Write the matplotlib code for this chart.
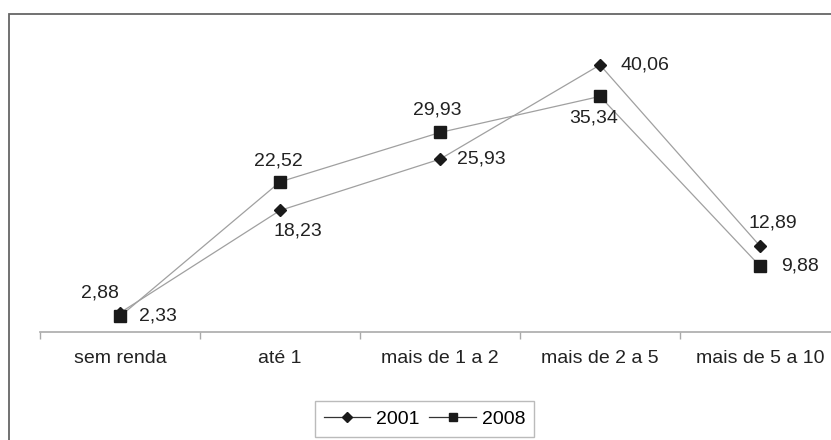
import matplotlib.pyplot as plt
from matplotlib.patches import Rectangle

categorias = ["sem renda", "até 1", "mais de 1 a 2", "mais de 2 a 5", "mais de 5 a 10"]
valores_2001 = [2.88, 18.23, 25.93, 40.06, 12.89]
valores_2008 = [2.33, 22.52, 29.93, 35.34, 9.88]

# deslocamento (px) de cada rótulo em relação ao ponto
offsets_2001 = [(-20, 20), (18, -21), (41, 0), (45, 0), (13, 23)]
offsets_2008 = [(38, 0), (-2, 21), (-3, 22), (-6, -22), (40, 0)]

plt.rcParams['font.family'] = ['Liberation Sans', 'DejaVu Sans']

def fmt(v):
    return f"{v:.2f}".replace(".", ",")

fig = plt.figure(figsize=(8.31, 4.4), dpi=100)
W, H = 831, 440
ax = fig.add_axes([40 / W, (H - 332) / H, 800 / W, 300 / H])

x = list(range(len(categorias)))
cor_linha = "#a0a0a0"
cor_marc = "#1a1a1a"
cor_txt = "#222222"
fs = 14
ax.plot(x, valores_2001, color=cor_linha, lw=0.9, marker="D", markersize=6,
        markerfacecolor=cor_marc, markeredgecolor=cor_marc, label="2001", zorder=3)
ax.plot(x, valores_2008, color=cor_linha, lw=0.9, marker="s", markersize=8,
        markerfacecolor=cor_marc, markeredgecolor=cor_marc, label="2008", zorder=3)

for xi, v, (dx, dy) in zip(x, valores_2001, offsets_2001):
    ax.annotate(fmt(v), (xi, v), xytext=(dx * 0.72, dy * 0.72), textcoords="offset points",
                ha="center", va="center", fontsize=fs, color=cor_txt)
for xi, v, (dx, dy) in zip(x, valores_2008, offsets_2008):
    ax.annotate(fmt(v), (xi, v), xytext=(dx * 0.72, dy * 0.72), textcoords="offset points",
                ha="center", va="center", fontsize=fs, color=cor_txt)

ax.set_xlim(-0.5, len(categorias) - 0.5)
ax.set_ylim(0, 45)
ax.set_xticks(x)
ax.set_xticklabels(categorias, fontsize=fs, color=cor_txt)
ax.tick_params(axis="x", which="major", length=0, pad=13)
ax.set_xticks([i - 0.5 for i in range(len(categorias) + 1)], minor=True)
ax.tick_params(axis="x", which="minor", length=5, color="#aaaaaa", width=1)
ax.set_yticks([])
for s in ["left", "top", "right"]:
    ax.spines[s].set_visible(False)
ax.spines["bottom"].set_color("#aaaaaa")
ax.spines["bottom"].set_linewidth(1.2)
ax.patch.set_alpha(0)

# moldura externa
fig.add_artist(Rectangle((9 / W, -0.1), 1.2, 1.1 - 14 / H, transform=fig.transFigure,
                         fill=False, edgecolor="#666666", lw=1.3))

leg = ax.legend(loc="center", bbox_to_anchor=(424.5 / W, 1 - 419 / H),
                bbox_transform=fig.transFigure, ncol=2, fontsize=fs, frameon=True,
                fancybox=False, edgecolor="#aaaaaa", handlelength=2.4, handletextpad=0.3,
                columnspacing=0.5, borderpad=0.45, markerscale=0.8)
leg.get_frame().set_linewidth(1.0)
for h in leg.legend_handles:
    h.set_color("#333333")
    h.set_markerfacecolor(cor_marc)
    h.set_markeredgecolor(cor_marc)

fig.savefig("out.png", dpi=100)
